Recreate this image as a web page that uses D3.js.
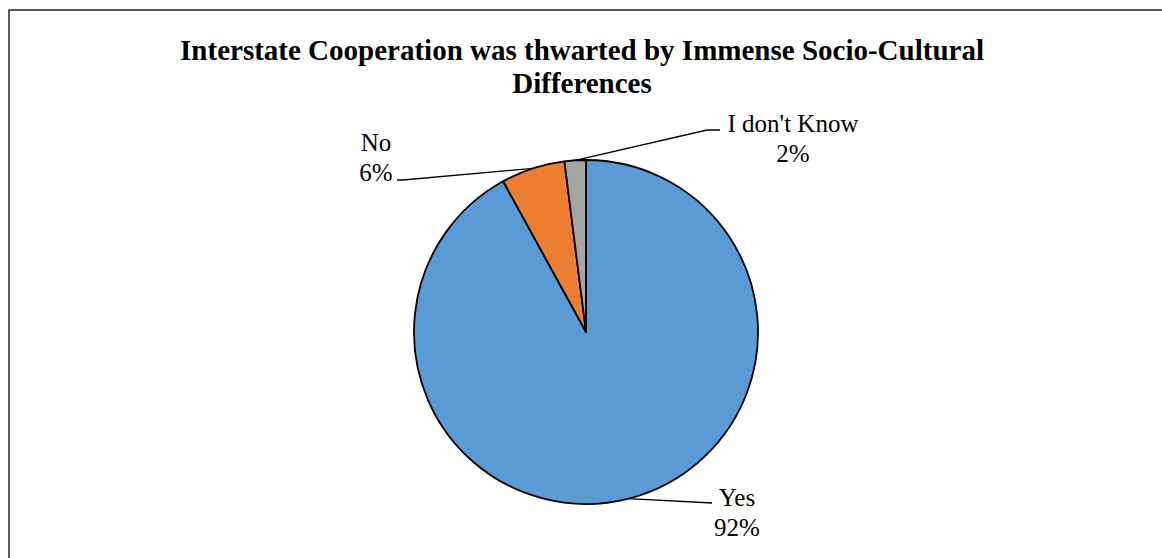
<!DOCTYPE html>
<html>
<head>
<meta charset="utf-8">
<script src="https://cdn.jsdelivr.net/npm/d3@7/dist/d3.min.js"></script>
<style>
  html, body { margin: 0; padding: 0; background: #fff; }
  svg { display: block; }
</style>
</head>
<body>
<svg id="chart" width="1162" height="558"></svg>
<script>
// Survey responses
const categories = ["Yes", "No", "I don't Know"];
const values = [92, 6, 2];
const colors = ["#5B9BD5", "#ED7D31", "#A5A5A5"];
const titleLines = ["Interstate Cooperation was thwarted by Immense Socio-Cultural", "Differences"];

const svg = d3.select("#chart");
const cx = 586, cy = 332, R = 172;
const font = "'Liberation Serif', 'Times New Roman', serif";

// chart frame (runs past the right and bottom edges)
svg.append("rect")
  .attr("x", 9).attr("y", 10)
  .attr("width", 1165).attr("height", 570)
  .attr("fill", "#fff")
  .attr("stroke", "#262626").attr("stroke-width", 1.5);

// title
const title = svg.append("text")
  .attr("text-anchor", "middle")
  .attr("font-family", font)
  .attr("font-weight", "bold")
  .attr("font-size", 29)
  .attr("fill", "#000");
titleLines.forEach((t, i) => {
  title.append("tspan").attr("x", 582).attr("y", 60 + i * 33).text(t);
});

const data = categories.map((c, i) => ({ cat: c, value: values[i], color: colors[i] }));

const pie = d3.pie().sort(null).value(d => d.value);
const arcs = pie(data);
const arc = d3.arc().innerRadius(0).outerRadius(R);

const g = svg.append("g").attr("transform", `translate(${cx},${cy})`);
g.selectAll("path.slice")
  .data(arcs)
  .join("path")
  .attr("class", "slice")
  .attr("d", arc)
  .attr("fill", d => d.data.color)
  .attr("stroke", "#000")
  .attr("stroke-width", 1.8)
  .attr("stroke-linejoin", "round");

// outside labels with leader lines
const total = d3.sum(values);
const pct = v => Math.round(v / total * 100) + "%";
const edge = d3.arc().innerRadius(R).outerRadius(R);

// label positions (relative to the pie centre) and leader end points
const labelSpec = {
  "Yes":          { lx: 151, ly: 173.5, pts: [[126, 171]] },
  "No":           { lx: -210, ly: -181, pts: [[-183, -152], [-189, -152]] },
  "I don't Know": { lx: 207, ly: -200, pts: [[121, -202], [134, -202]] }
};

arcs.forEach(a => {
  const spec = labelSpec[a.data.cat];
  const pts = [edge.centroid(a)].concat(spec.pts);
  g.append("path")
    .attr("d", d3.line()(pts))
    .attr("fill", "none")
    .attr("stroke", "#000")
    .attr("stroke-width", 1.3);
  const t = g.append("text")
    .attr("text-anchor", "middle")
    .attr("font-family", font)
    .attr("font-size", 25)
    .attr("fill", "#000");
  t.append("tspan").attr("x", spec.lx).attr("y", spec.ly).text(a.data.cat);
  t.append("tspan").attr("x", spec.lx).attr("y", spec.ly + 30).text(pct(a.data.value));
});
</script>
</body>
</html>
